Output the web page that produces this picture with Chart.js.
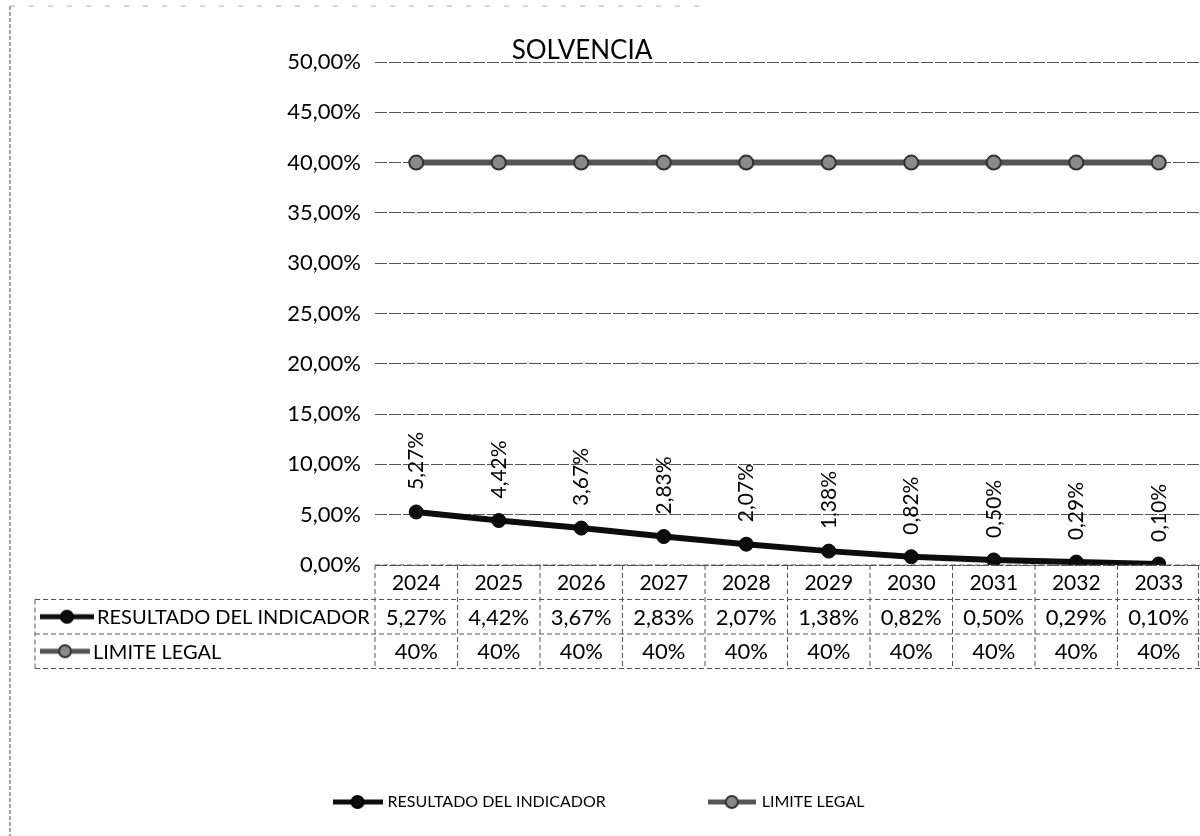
<!DOCTYPE html>
<html><head><meta charset="utf-8">
<script src="https://cdn.jsdelivr.net/npm/chart.js@4.4.1/dist/chart.umd.min.js"></script>
<style>html,body{margin:0;padding:0;background:#fff}#wrap{width:1200px;height:836px}</style>
</head><body><div id="wrap"><canvas id="c" width="1200" height="836"></canvas></div>
<script>
const categories = ['2024','2025','2026','2027','2028','2029','2030','2031','2032','2033'];
const resultado = [5.27, 4.42, 3.67, 2.83, 2.07, 1.38, 0.82, 0.50, 0.29, 0.10];
const limite = [40, 40, 40, 40, 40, 40, 40, 40, 40, 40];
const seriesNames = ['RESULTADO DEL INDICADOR', 'LIMITE LEGAL'];
const chartTitle = 'SOLVENCIA';
const yMin = 0, yMax = 50, yStep = 5;

const FONT = 'Lato, "Open Sans", sans-serif';
const fmt2 = v => v.toFixed(2).replace('.', ',') + '%';
const fmt0 = v => v.toFixed(0) + '%';

const S1 = { line: '#0d0d0d', point: '#0d0d0d', pointBorder: '#000' };
const S2 = { line: '#555', point: '#8a8a8a', pointBorder: '#333' };

function markerCanvas(s, w, h, r) {
  const c = document.createElement('canvas');
  c.width = w; c.height = h;
  const x = c.getContext('2d');
  x.strokeStyle = s.line; x.lineWidth = 5;
  x.beginPath(); x.moveTo(0, h / 2); x.lineTo(w, h / 2); x.stroke();
  x.fillStyle = s.point; x.strokeStyle = s.pointBorder; x.lineWidth = 2;
  x.beginPath(); x.arc(w / 2, h / 2, r, 0, Math.PI * 2); x.fill(); x.stroke();
  return c;
}
const mk1 = markerCanvas(S1, 54, 16, 6);
const mk2 = markerCanvas(S2, 50, 16, 6);
const markers = [mk1, mk2];
const legMk1 = markerCanvas(S1, 50, 16, 6);
const legMk2 = markerCanvas(S2, 48, 16, 6);
const legMarkers = [legMk1, legMk2];

const PLOT_TOP = 62, PLOT_BOTTOM = 565, PLOT_LEFT = 375;
const ROW_H = 34.5;

const decor = {
  id: 'decor',
  beforeDraw(chart) {
    const c = chart.ctx;
    c.save();
    c.fillStyle = '#fff'; c.fillRect(0, 0, chart.width, chart.height);
    c.strokeStyle = '#888'; c.lineWidth = 1.5;
    c.setLineDash([4, 2]);
    c.beginPath(); c.moveTo(10, 6); c.lineTo(10, 836); c.stroke();
    c.strokeStyle = '#aaa'; c.lineWidth = 1;
    c.setLineDash([5, 14]);
    c.beginPath(); c.moveTo(10, 6); c.lineTo(700, 6); c.stroke();
    c.restore();
  },
  afterDatasetsDraw(chart) {
    const c = chart.ctx;
    const meta = chart.getDatasetMeta(0);
    c.save();
    c.fillStyle = '#000';
    c.font = '21px ' + FONT;
    c.textAlign = 'left'; c.textBaseline = 'middle';
    meta.data.forEach((p, i) => {
      c.save();
      c.translate(p.x, p.y - 22);
      c.rotate(-Math.PI / 2);
      c.fillText(fmt2(resultado[i]), 0, 0);
      c.restore();
    });
    c.restore();
  },
  afterDraw(chart) {
    const c = chart.ctx;
    const xs = chart.scales.x;
    const ca = chart.chartArea;
    const half = (xs.getPixelForValue(1) - xs.getPixelForValue(0)) / 2;
    const top = ca.bottom;
    c.save();
    // title
    c.fillStyle = '#000';
    c.font = '26px ' + FONT;
    c.textAlign = 'center'; c.textBaseline = 'alphabetic';
    c.fillText(chartTitle, 582, 59);

    // table lines
    c.strokeStyle = '#555'; c.lineWidth = 1;
    c.setLineDash([5, 3]);
    const rows = [top, top + ROW_H, top + 2 * ROW_H, top + 3 * ROW_H];
    const colL = xs.getPixelForValue(0) - half;
    const colR = xs.getPixelForValue(categories.length - 1) + half;
    const labL = 35;
    c.beginPath();
    c.moveTo(colL, rows[0]); c.lineTo(colR, rows[0]);
    for (let r = 1; r < 4; r++) { c.moveTo(labL, rows[r]); c.lineTo(colR, rows[r]); }
    for (let i = 0; i <= categories.length; i++) {
      const x = Math.min(colL + i * 2 * half, chart.width - 1.5);
      c.moveTo(x, rows[0]); c.lineTo(x, rows[3]);
    }
    c.moveTo(labL, rows[1]); c.lineTo(labL, rows[3]);
    c.stroke();
    c.setLineDash([]);

    // text
    c.fillStyle = '#000';
    c.textAlign = 'center'; c.textBaseline = 'middle';
    categories.forEach((cat, i) => {
      const x = xs.getPixelForValue(i);
      c.font = '21px ' + FONT;
      c.fillText(cat, x, rows[0] + ROW_H / 2 + 1);
      c.font = '22px ' + FONT;
      c.fillText(fmt2(resultado[i]), x, rows[1] + ROW_H / 2 + 1);
      c.fillText(fmt0(limite[i]), x, rows[2] + ROW_H / 2 + 1);
    });
    c.textAlign = 'left';
    c.font = '20px ' + FONT;
    for (let r = 0; r < 2; r++) {
      const cy = rows[r + 1] + ROW_H / 2;
      const m = markers[r];
      c.drawImage(m, 40, cy - m.height / 2);
      c.fillText(seriesNames[r], 40 + m.width + 3, cy + 1);
    }
    c.restore();
  }
};

const ctx = document.getElementById('c').getContext('2d');
new Chart(ctx, {
  type: 'line',
  data: {
    labels: categories,
    datasets: [
      { label: seriesNames[0], data: resultado, borderColor: S1.line, backgroundColor: S1.point,
        pointBackgroundColor: S1.point, pointBorderColor: S1.pointBorder, pointBorderWidth: 1,
        borderWidth: 6, pointRadius: 7, pointHoverRadius: 7, tension: 0, fill: false },
      { label: seriesNames[1], data: limite, borderColor: S2.line, backgroundColor: S2.point,
        pointBackgroundColor: S2.point, pointBorderColor: S2.pointBorder, pointBorderWidth: 2,
        borderWidth: 6, pointRadius: 7, pointHoverRadius: 7, tension: 0, fill: false }
    ]
  },
  options: {
    responsive: false, animation: false, devicePixelRatio: 1,
    layout: { autoPadding: false, padding: { left: 0, right: 0, top: PLOT_TOP, bottom: 16 } },
    plugins: {
      title: { display: false },
      tooltip: { enabled: false },
      legend: {
        display: true, position: 'bottom',
        labels: {
          usePointStyle: true, pointStyleWidth: 44, boxHeight: 16, padding: 104,
          color: '#000', font: { family: FONT, size: 16 },
          generateLabels(chart) {
            const items = Chart.defaults.plugins.legend.labels.generateLabels(chart);
            items.forEach((it, i) => { it.pointStyle = legMarkers[i]; });
            return items;
          }
        }
      }
    },
    scales: {
      x: {
        offset: true,
        grid: { display: false, drawTicks: false },
        border: { display: false },
        ticks: { display: false },
        afterFit(s) { s.height = s.chart.height - PLOT_BOTTOM - s.chart.legend.height - 16; }
      },
      y: {
        min: yMin, max: yMax,
        grid: { color: '#555', lineWidth: 1, drawTicks: false },
        border: { display: false, dash: [12, 2] },
        ticks: { stepSize: yStep, padding: 14, color: '#000', font: { family: FONT, size: 22 },
          callback: v => fmt2(v) },
        afterFit(s) { s.width = PLOT_LEFT; }
      }
    }
  },
  plugins: [decor]
});
</script></body></html>
